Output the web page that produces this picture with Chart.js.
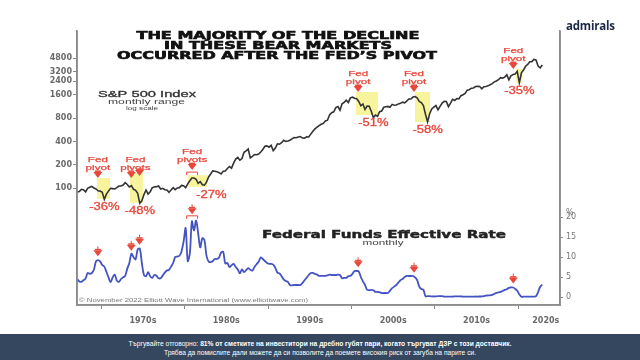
<!DOCTYPE html>
<html><head><meta charset="utf-8">
<script src="https://cdn.jsdelivr.net/npm/chart.js@4.4.0/dist/chart.umd.min.js"></script>
<style>
html,body{margin:0;padding:0;background:#fff;width:640px;height:360px;overflow:hidden}
#c{position:absolute;left:0;top:0}
#logo{position:absolute;left:566px;top:18px;font:bold 11.5px "Open Sans",sans-serif;color:#1c2749;letter-spacing:-0.2px}
#banner{position:absolute;left:0;top:334px;width:640px;height:26px;background:#35475f;color:#fff;text-align:center;font:7.4px "Liberation Sans",sans-serif;line-height:9px;padding-top:5px;box-sizing:border-box}
#banner div{transform:scaleX(0.9);transform-origin:320px 0}
</style></head>
<body>
<canvas id="c" width="640" height="360"></canvas>
<div id="logo">admirals</div>
<div id="banner"><div>Търгувайте отговорно: <b>81% от сметките на инвеститори на дребно губят пари, когато търгуват ДЗР с този доставчик.</b><br>Трябва да помислите дали можете да си позволите да поемете високия риск от загуба на парите си.</div></div>
<script>
// ---- data ----
const startYear = 1967; // quarterly samples, 1967Q1 .. 2022Q4
const spx = [
90,91,97,96, 90,100,103,106, 101,98,93,92, 89,72,84,92, 100,99,98,102,
107,107,110,118, 112,104,108,97, 94,86,64,69, 83,95,84,90, 102,104,105,107,
98,100,96,95, 89,95,102,96, 101,102,109,108, 102,114,125,136, 136,131,116,122,
111,110,120,140, 153,168,166,164, 159,153,166,167, 180,191,182,211, 238,250,231,242,
291,304,321,247, 258,273,271,277, 294,317,349,353, 339,358,306,330, 375,371,387,417,
403,408,417,435, 451,450,458,466, 445,444,462,459, 500,544,584,615, 645,670,687,740,
757,885,947,970, 1101,1133,1017,1229, 1286,1372,1282,1469, 1498,1454,1436,1320, 1160,1224,1040,1148,
1147,989,815,879, 848,974,995,1111, 1126,1140,1114,1211, 1180,1191,1228,1248, 1294,1270,1335,1418,
1420,1503,1526,1468, 1322,1280,1166,903, 720,919,1057,1115, 1169,1031,1141,1257, 1325,1320,1131,1257,
1408,1362,1440,1426, 1569,1606,1681,1848, 1872,1960,1972,2058, 2067,2063,1920,2043, 2059,2099,2168,2238,
2362,2423,2519,2673, 2640,2718,2913,2506, 2834,2941,2976,3230, 2300,3100,3363,3756, 3972,4297,4307,4600,
4530,3785,3585,3900];
const ffr = [
4.5,3.9,3.8,4.2, 4.6,6.0,5.8,6.0, 6.8,8.9,9.2,8.9, 8.0,7.6,6.3,4.9, 3.7,4.9,5.6,4.1,
3.8,4.5,4.9,5.3, 7.1,8.5,10.8,10.0, 9.4,11.9,12.1,8.5, 5.5,5.2,6.2,5.2, 4.8,5.5,5.3,4.7,
4.7,5.4,6.1,6.6, 6.8,7.6,8.5,10.0, 10.1,10.3,11.4,13.8, 17.2,9.0,10.9,18.9, 16.6,19.1,15.9,12.4,
14.7,14.2,10.3,8.9, 8.7,9.0,9.5,9.5, 9.9,11.1,11.3,8.4, 8.5,7.5,7.9,8.3, 7.5,6.9,5.9,6.9,
6.2,6.7,7.2,6.8, 6.6,7.5,8.2,8.8, 9.9,9.5,9.0,8.5, 8.3,8.3,8.1,7.3, 6.1,5.9,5.2,4.4,
4.0,3.8,3.0,2.9, 3.0,3.0,3.0,3.0, 3.5,4.2,4.8,5.5, 6.0,6.0,5.8,5.6, 5.3,5.3,5.3,5.3,
5.4,5.6,5.5,5.5, 5.5,5.6,5.5,4.7, 4.8,4.8,5.2,5.3, 5.8,6.5,6.5,6.4, 5.0,3.9,3.0,1.8,
1.7,1.8,1.7,1.3, 1.3,1.2,1.0,1.0, 1.0,1.0,1.6,2.2, 2.6,3.0,3.6,4.2, 4.5,5.0,5.25,5.25,
5.25,5.25,4.9,4.2, 2.6,2.0,1.8,0.2, 0.2,0.2,0.15,0.12, 0.15,0.2,0.2,0.2, 0.1,0.1,0.08,0.07,
0.1,0.16,0.14,0.16, 0.14,0.1,0.08,0.09, 0.07,0.1,0.09,0.12, 0.11,0.13,0.14,0.24, 0.37,0.38,0.4,0.54,
0.79,1.04,1.15,1.3, 1.5,1.8,1.95,2.27, 2.4,2.38,2.04,1.55, 0.65,0.05,0.09,0.09, 0.07,0.08,0.08,0.08,
0.2,1.21,2.56,3.1];
const spxTicks = [100,200,400,800,1600,2400,3200,4800];
const ffrTicks = [0,5,10,15,20];
const decadeTicks = [1970,1980,1990,2000,2010,2020];
const decadeLabels = ['1970s','1980s','1990s','2000s','2010s','2020s'];
const decadeLabelYears = [1975,1985,1995,2005,2015,2023.3];
// Fed pivots and bear markets
const pivotYears = [[1969.6],[1973.6,1974.6],[1980.9],[2000.8],[2007.5],[2019.4]];
const pivotWord = ['pivot','pivots','pivots','pivot','pivot','pivot'];
const pivotBracket = [false,false,true,false,false,false];
const bearStart = [1969.5,1973.45,1980.4,2000.55,2007.62,2019.73];
const bearEnd = [1971.06,1975.0,1982.7,2003.18,2009.42,2020.5];
const bearHigh = [136,158,148,1748,1748,3460];
const bearLow = [73,65,104,883,717,2283];
const declines = ['-36%','-48%','-27%','-51%','-58%','-35%'];

const yr = i => startYear + i*0.25 + 0.125;
const spxPts = spx.map((v,i)=>({x:yr(i), y:v}));
const ffrPts = ffr.map((v,i)=>({x:yr(i), y:v}));
function interp(arr, year){
  const f = (year - startYear - 0.125)/0.25; const i = Math.max(0, Math.min(arr.length-2, Math.floor(f))); const t = f - i;
  return arr[i]*(1-t) + arr[i+1]*t;
}
const RED = '#e8473b';
function fitText(ctx, txt, cx, cy, font, color, width, sx, stroke){
  ctx.save(); ctx.font = font; ctx.fillStyle = color; ctx.textAlign='center'; ctx.textBaseline='middle';
  const mw = ctx.measureText(txt).width; const s = width ? width/mw : (sx||1);
  ctx.translate(cx, cy); ctx.scale(s,1); ctx.fillText(txt,0,0);
  if (stroke){ ctx.strokeStyle = color; ctx.lineWidth = stroke; ctx.strokeText(txt,0,0); }
  ctx.restore();
}
function arrow(ctx, x, tip, stem){
  ctx.save(); ctx.fillStyle = RED; ctx.beginPath();
  ctx.moveTo(x-4.5, tip-6); ctx.lineTo(x+4.5, tip-6); ctx.lineTo(x, tip); ctx.closePath(); ctx.fill();
  ctx.fillRect(x-3, tip-7.5, 6, 1.5);
  if (stem){ ctx.strokeStyle = RED; ctx.lineWidth = 1; ctx.beginPath(); ctx.moveTo(x, tip-7); ctx.lineTo(x, tip-10); ctx.stroke(); }
  ctx.restore();
}
function bracket(ctx, x, top){
  ctx.save(); ctx.strokeStyle = RED; ctx.lineWidth = 1; ctx.beginPath();
  ctx.moveTo(x-5.5, top+3.5); ctx.lineTo(x-5.5, top+0.5); ctx.lineTo(x+5.5, top+0.5); ctx.lineTo(x+5.5, top+3.5); ctx.stroke(); ctx.restore();
}

const annot = {
  id:'annot',
  beforeDatasetsDraw(chart){
    const {ctx, scales:{x, y}} = chart;
    ctx.save(); ctx.fillStyle = 'rgba(247,242,140,0.85)';
    bearStart.forEach((s,i)=>{
      const x0 = x.getPixelForValue(s), x1 = x.getPixelForValue(bearEnd[i]);
      const y0 = y.getPixelForValue(bearHigh[i]), y1 = y.getPixelForValue(bearLow[i]);
      ctx.fillRect(x0, y0, x1-x0, y1-y0);
    });
    ctx.restore();
  },
  afterDatasetsDraw(chart){
    const {ctx, scales:{x, y, y2}} = chart;
    const tf = '8px "Liberation Sans"';
    pivotYears.forEach((ys,i)=>{
      const xs = ys.map(v=>x.getPixelForValue(v));
      const cx = xs.reduce((a,b)=>a+b,0)/xs.length;
      const boxTop = y.getPixelForValue(bearHigh[i]);
      let tip = boxTop + (ys.length>1 ? 5 : 0);
      if (pivotBracket[i]){ bracket(ctx, cx, boxTop-3.5); tip = boxTop - 5; }
      xs.forEach((px,k)=>arrow(ctx, px, tip - (ys.length>1 ? k*2 : 0), false));
      fitText(ctx, 'Fed', cx, tip-18.5, tf, RED, 0, 1.45, 0.25);
      fitText(ctx, pivotWord[i], cx, tip-10, tf, RED, 0, 1.45, 0.25);
      let lowIdx = 0, lowV = Infinity;
      spx.forEach((v,k)=>{ const t = yr(k); if (t>=bearStart[i]-0.2 && t<=bearEnd[i]+0.2 && v<lowV){lowV=v; lowIdx=k;} });
      const lx = x.getPixelForValue(yr(lowIdx)) + (pivotBracket[i] ? 7 : 0);
      fitText(ctx, declines[i], lx, y.getPixelForValue(bearLow[i]) + 8.5, '10px "Liberation Sans"', RED, 0, 1.3, 0.3);
      if (pivotBracket[i]){
        const pk = y2.getPixelForValue(interp(ffr, ys[0]));
        bracket(ctx, cx, pk-7); arrow(ctx, cx, pk-8, true);
      } else {
        ys.forEach((v,k)=>arrow(ctx, xs[k], y2.getPixelForValue(interp(ffr, v)) - 4, true));
      }
    });
  },
  afterDraw(chart){
    const {ctx, chartArea:ca, scales:{y2}} = chart;
    // frame lines (left, right, bottom axis lines)
    ctx.save(); ctx.strokeStyle = '#8c8c8c'; ctx.lineWidth = 1.6; ctx.beginPath();
    ctx.moveTo(ca.left, ca.top); ctx.lineTo(ca.left, ca.bottom); ctx.lineTo(ca.right, ca.bottom); ctx.lineTo(ca.right, ca.top);
    ctx.stroke(); ctx.restore();
    fitText(ctx, 'THE MAJORITY OF THE DECLINE', 278, 36.5, 'bold 10px "DejaVu Sans"', '#111', 283, 0, 0.6);
    fitText(ctx, 'IN THESE BEAR MARKETS', 278, 46.5, 'bold 10px "DejaVu Sans"', '#111', 228, 0, 0.6);
    fitText(ctx, 'OCCURRED AFTER THE FED\u2019S PIVOT', 277, 56.5, 'bold 10px "DejaVu Sans"', '#111', 320, 0, 0.6);
    fitText(ctx, 'S&P 500 Index', 147, 94.5, '9px "Liberation Sans"', '#333', 98, 0, 0.3);
    fitText(ctx, 'monthly range', 146.5, 102, '7px "Liberation Sans"', '#444', 77);
    fitText(ctx, 'log scale', 142, 108.5, '6px "Liberation Sans"', '#444', 32);
    fitText(ctx, 'Federal Funds Effective Rate', 384, 235, 'bold 10px "DejaVu Sans"', '#222', 244, 0, 0.4);
    fitText(ctx, 'monthly', 383, 243.5, '7px "Liberation Sans"', '#444', 41);
    fitText(ctx, '\u00A9 November 2022 Elliott Wave International (www.elliottwave.com)', 193.5, 300.5, '4.5px "Liberation Sans"', '#777', 229);
    ctx.save(); ctx.font = '8px "DejaVu Sans"'; ctx.fillStyle = '#777'; ctx.textAlign='left'; ctx.textBaseline='middle';
    ctx.fillText('%', 566, y2.getPixelForValue(20) - 4.5); ctx.restore();
  }
};

new Chart(document.getElementById('c'), {
  type:'line',
  data:{datasets:[
    {label:'S&P 500', data:spxPts, yAxisID:'y', xAxisID:'x', borderColor:'#333333', borderWidth:1.6, pointRadius:0, tension:0},
    {label:'Federal Funds Effective Rate', data:ffrPts, yAxisID:'y2', xAxisID:'x', borderColor:'#4353c4', borderWidth:1.8, pointRadius:0, tension:0.35}
  ]},
  options:{
    responsive:false, animation:false, events:[],
    layout:{padding:{top:31,left:0,right:0,bottom:0}},
    plugins:{legend:{display:false}, tooltip:{enabled:false}},
    scales:{
      x:{type:'linear', position:'bottom', weight:0, min:1967.1, max:2025,
        afterBuildTicks:s=>{ s.ticks = decadeTicks.map(v=>({value:v})); },
        ticks:{display:false},
        grid:{drawOnChartArea:false, drawTicks:true, tickLength:4, color:'#888', lineWidth:1},
        border:{color:'#8c8c8c', width:1.6},
        afterFit:s=>{ s.height = 0; }},
      xl:{type:'linear', position:'bottom', weight:1, min:1967.1, max:2025,
        afterBuildTicks:s=>{ s.ticks = decadeLabelYears.map(v=>({value:v})); },
        ticks:{callback:(v,i)=>decadeLabels[i], font:{family:'DejaVu Sans', weight:'bold', size:8}, color:'#6a6a6a', padding:3, maxRotation:0, autoSkip:false},
        grid:{display:false}, border:{display:false},
        afterFit:s=>{ s.height = 55; }},
      y:{type:'logarithmic', position:'left', min:3.12, max:10710, bounds:'data',
        afterBuildTicks:s=>{ s.ticks = spxTicks.map(v=>({value:v})); },
        ticks:{callback:v=>String(v), font:{family:'DejaVu Sans', weight:'bold', size:8}, color:'#6a6a6a', padding:1, autoSkip:false},
        grid:{drawOnChartArea:false, tickLength:4, color:'#888'},
        border:{color:'#8c8c8c', width:1.6},
        afterFit:s=>{ s.width = 77; }},
      y2:{type:'linear', position:'right', min:-2, max:66.5, bounds:'data',
        afterBuildTicks:s=>{ s.ticks = ffrTicks.map(v=>({value:v})); },
        ticks:{font:{family:'DejaVu Sans', size:8}, color:'#777', padding:3, autoSkip:false},
        grid:{drawOnChartArea:false, tickLength:3, color:'#888'},
        border:{color:'#8c8c8c', width:1.6},
        afterFit:s=>{ s.width = 80; }}
    }
  },
  plugins:[annot]
});
</script>
</body></html>
